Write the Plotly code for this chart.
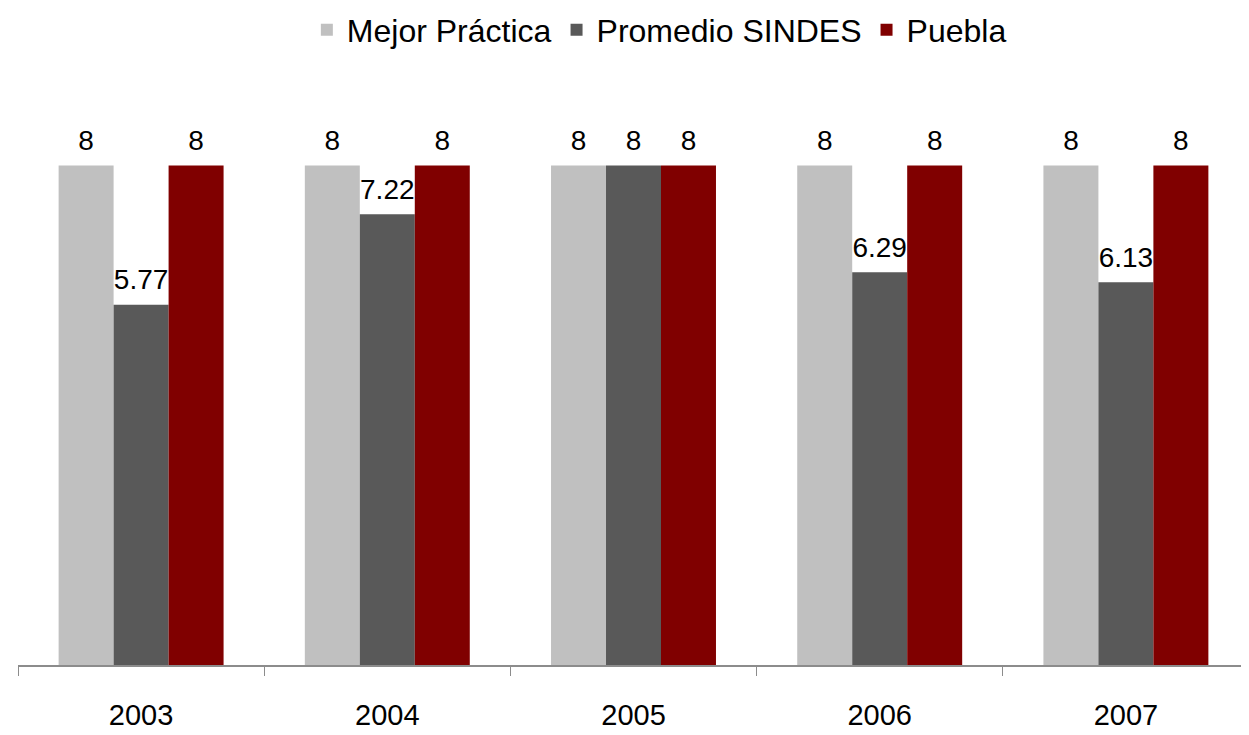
import plotly.graph_objects as go

years = ["2003", "2004", "2005", "2006", "2007"]
mejor_practica = [8, 8, 8, 8, 8]
promedio_sindes = [5.77, 7.22, 8, 6.29, 6.13]
puebla = [8, 8, 8, 8, 8]

COLORS = {
    "mejor": "#C0C0C0",
    "sindes": "#595959",
    "puebla": "#800000",
    "axis": "#8C8C8C",
}
FONT = "Liberation Sans, Arial, sans-serif"

series = [
    ("Mejor Práctica", mejor_practica, COLORS["mejor"]),
    ("Promedio SINDES", promedio_sindes, COLORS["sindes"]),
    ("Puebla", puebla, COLORS["puebla"]),
]

fig = go.Figure()
for i, (name, vals, color) in enumerate(series):
    fig.add_trace(go.Bar(
        x=years, y=vals, name=name, offsetgroup=str(i),
        marker=dict(color=color, line=dict(width=0)),
    ))
for i, (name, vals, color) in enumerate(series):
    # value labels, aligned with the grouped bars
    fig.add_trace(go.Scatter(
        x=years, y=vals, offsetgroup=str(i), mode="markers+text",
        marker=dict(size=12, opacity=0),
        text=[f"{v:g}" for v in vals], textposition="top center",
        textfont=dict(size=28, color="black", family=FONT),
        showlegend=False, hoverinfo="skip", cliponaxis=False,
    ))

fig.update_layout(
    barmode="group", bargap=0.33, bargroupgap=0, scattermode="group",
    width=1249, height=735,
    paper_bgcolor="white", plot_bgcolor="white",
    font=dict(family=FONT, color="black", size=28),
    margin=dict(l=10, r=8, t=94.5, b=78, autoexpand=False),
    legend=dict(orientation="h", x=0.521, xanchor="center",
                yref="container", y=0.970, yanchor="middle",
                font=dict(size=32), itemwidth=30, traceorder="normal"),
    xaxis=dict(showline=True, linecolor=COLORS["axis"], linewidth=1.5,
               ticks="outside", tickson="boundaries", ticklen=9, tickcolor=COLORS["axis"],
               ticklabelstandoff=23, tickfont=dict(size=29)),
    yaxis=dict(range=[0, 9], visible=False),
)

fig.write_html("out.html")
